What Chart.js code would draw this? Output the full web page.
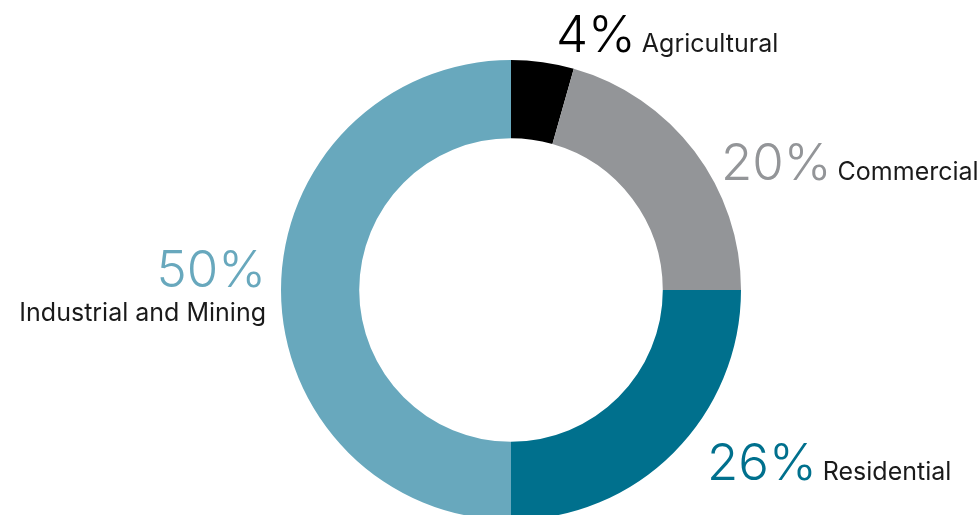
<!DOCTYPE html>
<html>
<head>
<meta charset="utf-8">
<script src="https://cdn.jsdelivr.net/npm/chart.js@4"></script>
<style>
  html, body { margin: 0; padding: 0; background: #fff; overflow: hidden; }
  #wrap { width: 980px; height: 530px; position: relative; }
</style>
</head>
<body>
<div id="wrap"><canvas id="chart"></canvas></div>
<script>
const categories = ['Agricultural', 'Commercial', 'Residential', 'Industrial and Mining'];
// slice sizes as drawn; printed labels are the rounded shares
const values = [4.4, 20.6, 25.0, 50.0];
const pctLabels = ['4%', '20%', '26%', '50%'];
const colors = ['#000000', '#939598', '#00708d', '#68a8bd'];
const pctColors = ['#000000', '#939598', '#00708d', '#68a8bd'];

// where each label goes: x, baseline y, alignment
const labelPos = [
  { x: 556, y: 52, align: 'inline' },
  { x: 721, y: 180, align: 'inline' },
  { x: 707, y: 480, align: 'inline' },
  { x: 266, y: 287, align: 'stacked' }
];

const pctFont = '300 51px Inter';
const catFont = '400 25px Inter';

const labelPlugin = {
  id: 'sliceLabels',
  afterDraw(chart) {
    const ctx = chart.ctx;
    ctx.save();
    ctx.textBaseline = 'alphabetic';
    categories.forEach((cat, i) => {
      const p = labelPos[i];
      const pct = pctLabels[i];
      ctx.font = pctFont;
      ctx.fillStyle = pctColors[i];
      if (p.align === 'inline') {
        ctx.textAlign = 'left';
        ctx.fillText(pct, p.x, p.y);
        const w = ctx.measureText(pct).width;
        ctx.font = catFont;
        ctx.fillStyle = '#1a1a1a';
        ctx.fillText(cat, p.x + w + 6, p.y);
      } else {
        ctx.textAlign = 'right';
        ctx.fillText(pct, p.x, p.y);
        ctx.font = catFont;
        ctx.fillStyle = '#1a1a1a';
        ctx.fillText(cat, p.x, p.y + 34);
      }
    });
    ctx.restore();
  }
};

new Chart(document.getElementById('chart'), {
  type: 'doughnut',
  data: {
    labels: categories,
    datasets: [{
      data: values,
      backgroundColor: colors,
      borderWidth: 0
    }]
  },
  options: {
    responsive: true,
    maintainAspectRatio: false,
    animation: false,
    cutout: '66%',
    layout: { padding: { top: 60, bottom: 10, left: 42, right: 0 } },
    plugins: {
      legend: { display: false },
      tooltip: { enabled: false }
    }
  },
  plugins: [labelPlugin]
});
</script>
</body>
</html>
